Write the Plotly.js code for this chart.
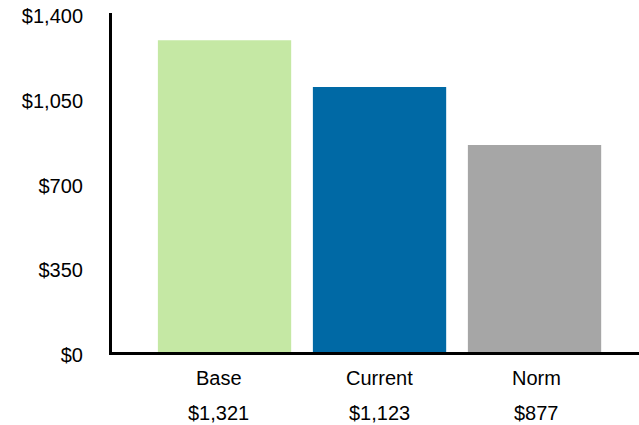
<!DOCTYPE html>
<html>
<head>
<meta charset="utf-8">
<script src="https://cdn.plot.ly/plotly-3.0.1.min.js"></script>
<style>html,body{margin:0;padding:0;background:#fff;}#chart{width:639px;height:425px;}</style>
</head>
<body>
<div id="chart"></div>
<script>
const categories = ["Base", "Current", "Norm"];
const values = [1321, 1123, 877];
const valueLabels = ["$1,321", "$1,123", "$877"];
const barColors = ["#c5e8a4", "#0069a5", "#a6a6a6"];
const tickVals = [0, 350, 700, 1050, 1400];
const tickText = ["$0", "$350", "$700", "$1,050", "$1,400"];

const FONT = "Liberation Sans, Arial, sans-serif";

// invisible helper trace carrying the tick-label axis (drawn first)
const helper = {
  type: "scatter",
  x: categories,
  y: values,
  yaxis: "y2",
  mode: "none",
  hoverinfo: "none",
  showlegend: false
};

const trace = {
  type: "bar",
  x: categories,
  y: values,
  marker: { color: barColors, line: { width: 0 } },
  width: 0.86,
  hoverinfo: "none"
};

// small horizontal nudges of the category label columns (layout only)
const labelShift = [-6, 0, 2];

const annotations = [];
categories.forEach((c, i) => {
  annotations.push({
    x: c, xref: "x", y: -0.0673, yref: "paper", xshift: labelShift[i],
    text: c, showarrow: false, yanchor: "middle", xanchor: "center",
    font: { family: FONT, size: 20, color: "#000" }
  });
  annotations.push({
    x: c, xref: "x", y: -0.1696, yref: "paper", xshift: labelShift[i],
    text: valueLabels[i], showarrow: false, yanchor: "middle", xanchor: "center",
    font: { family: FONT, size: 20, color: "#000" }
  });
});

const layout = {
  width: 639,
  height: 425,
  margin: { l: 112, r: 0, t: 13, b: 70, pad: 0 },
  paper_bgcolor: "#fff",
  plot_bgcolor: "rgba(0,0,0,0)",
  showlegend: false,
  font: { family: FONT, size: 20, color: "#000" },
  xaxis: {
    type: "category",
    anchor: "y",
    range: [-0.726, 2.674],
    showticklabels: false,
    showgrid: false,
    zeroline: false,
    showline: true,
    linecolor: "#000",
    linewidth: 3,
    ticks: "",
    fixedrange: true
  },
  yaxis: {
    domain: [0.00877, 1],
    range: [0, 1436],
    showticklabels: false,
    showgrid: false,
    zeroline: false,
    showline: true,
    linecolor: "#000",
    linewidth: 3,
    ticks: "",
    fixedrange: true
  },
  yaxis2: {
    domain: [0, 1],
    anchor: "x",
    side: "left",
    range: [0, 1412.4],
    tickmode: "array",
    tickvals: tickVals,
    ticktext: tickText,
    tickfont: { family: FONT, size: 20, color: "#000" },
    ticks: "outside",
    ticklen: 24,
    tickcolor: "rgba(0,0,0,0)",
    showgrid: false,
    zeroline: false,
    showline: false,
    fixedrange: true
  },
  annotations: annotations
};

Plotly.newPlot("chart", [helper, trace], layout, { displayModeBar: false, staticPlot: true });
</script>
</body>
</html>
